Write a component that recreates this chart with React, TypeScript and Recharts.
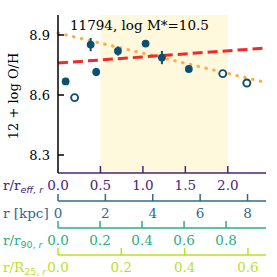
import React from 'react';
import { ComposedChart, Scatter, XAxis, YAxis, ReferenceArea, ReferenceLine, ErrorBar } from 'recharts';

// filled points (with errors) and open points, radius in r/r_eff
const filledR = [0.09, 0.385, 0.45, 0.706, 1.032, 1.224, 1.541];
const filledOH = [8.668, 8.852, 8.715, 8.82, 8.857, 8.787, 8.73];
const filledErr = [0.015, 0.033, 0.02, 0.023, 0.012, 0.033, 0.015];
const openR = [0.196, 1.941, 2.224];
const openOH = [8.587, 8.707, 8.66];

const reffTicks = [0, 0.5, 1.0, 1.5, 2.0];
const kpcTicks = [0, 2, 4, 6, 8];
const r90Ticks = [0, 0.2, 0.4, 0.6, 0.8];
const r25Ticks = [0, 0.2, 0.4, 0.6];
const ohTicks = [8.3, 8.6, 8.9];

const reffMax = 2.45;
const kpcMax = 8.78;
const r90Max = 0.99;
const r25Max = 0.657;
const ohDomain = [8.21, 9.0];

// linear fits: oh = a + b * r
const fitRed = { a: 8.76, b: 0.0305 };
const fitOrange = { a: 8.91, b: -0.101 };
const shadeFrom = 0.5;
const shadeTo = 2.0;

const BLUE = '#0d4f73';
const C_REFF = '#482475';
const C_KPC = '#31688e';
const C_R90 = '#2aae80';
const C_R25 = '#bddf26';
const SERIF = 'DejaVu Serif';

const filled = filledR.map((r, i) => ({ r, oh: filledOH[i], err: filledErr[i] }));
const open = openR.map((r, i) => ({ r, oh: openOH[i] }));
// anchors so the secondary scales have something bound to them (drawn as nothing)
const anchorRows = (ticks: number[], max: number) => [...ticks, max].map((v) => ({ v, oh: ohDomain[0] }));

const BottomTick = (props: any) => {
  const { x, y, payload, color, digits, skipZero } = props;
  return (
    <g>
      {!(skipZero && payload.value === 0) && (
        <line x1={x} x2={x} y1={y} y2={y - 7} stroke={color} strokeWidth={1.5} />
      )}
      <text x={x} y={y + 17} textAnchor="middle" fill={color} fontSize={13.5} fontFamily={SERIF}>
        {payload.value.toFixed(digits)}
      </text>
    </g>
  );
};

const TopTick = ({ x, y, payload }: any) =>
  payload.value === 0 ? <g /> : <line x1={x} x2={x} y1={y} y2={y + 7} stroke="#000" strokeWidth={1.5} />;

const LeftTick = ({ x, y, payload }: any) => (
  <g>
    <line x1={x} x2={x + 6} y1={y} y2={y} stroke="#000" strokeWidth={1.5} />
    <text x={x - 8} y={y + 4.5} textAnchor="end" fontSize={13} fontFamily={SERIF} fill="#000">
      {payload.value.toFixed(1)}
    </text>
  </g>
);

const RightTick = ({ x, y }: any) => <line x1={x} x2={x - 6} y1={y} y2={y} stroke="#000" strokeWidth={1.5} />;

const axisTitle = (main: string, sub: string, color: string, uprightHead: boolean) => (p: any) => {
  const vb = p.viewBox;
  const parts = sub.split(', ');
  return (
    <text x={3} y={vb.y + 17} fill={color} fontSize={13.5} fontFamily={SERIF}>
      {main}
      {sub && (
        <tspan dy={3} fontSize={9.5} fontFamily="DejaVu Sans" fontStyle={uprightHead ? 'normal' : 'italic'}>
          {parts[0]}, <tspan fontStyle="italic">{parts[1]}</tspan>
        </tspan>
      )}
    </text>
  );
};

const secondaryAxis = (id: number, max: number, ticks: number[], h: number, color: string, digits: number, title: any) => (
  <XAxis
    key={`ax${id}`}
    xAxisId={id}
    type="number"
    dataKey="v"
    domain={[0, max]}
    allowDataOverflow
    ticks={ticks}
    interval={0}
    height={h}
    tickSize={0}
    tickMargin={0}
    tickLine={false}
    axisLine={{ stroke: color, strokeWidth: 1.5 }}
    tick={(p: any) => <BottomTick {...p} color={color} digits={digits} />}
    label={title}
  />
);

const anchorSeries = (id: number, ticks: number[], max: number) => (
  <Scatter
    key={`an${id}`}
    xAxisId={id}
    yAxisId={0}
    data={anchorRows(ticks, max)}
    dataKey="oh"
    isAnimationActive={false}
    shape={() => <g />}
  />
);

export default function App() {
  return (
    <div style={{ position: 'absolute', left: 0, top: 0, width: 277, height: 277, background: '#fff' }}>
      <ComposedChart width={277} height={277} margin={{ top: 15, right: 11, bottom: 0, left: 0 }}>
        <XAxis
          xAxisId={0}
          type="number"
          dataKey="r"
          domain={[0, reffMax]}
          allowDataOverflow
          ticks={reffTicks}
          interval={0}
          height={28}
          tickSize={0}
          tickMargin={0}
          tickLine={false}
          axisLine={{ stroke: C_REFF, strokeWidth: 1.5 }}
          tick={(p: any) => <BottomTick {...p} color={C_REFF} digits={1} skipZero />}
          label={axisTitle('r/r', 'eff, r', C_REFF, false)}
        />
        {secondaryAxis(1, kpcMax, kpcTicks, 27, C_KPC, 0, axisTitle('r [kpc]', '', C_KPC, false))}
        {secondaryAxis(2, r90Max, r90Ticks, 27, C_R90, 1, axisTitle('r/r', '90, r', C_R90, true))}
        {secondaryAxis(3, r25Max, r25Ticks, 22, C_R25, 1, axisTitle('r/R', '25, r', C_R25, true))}
        <XAxis
          xAxisId={4}
          orientation="top"
          type="number"
          dataKey="r"
          domain={[0, reffMax]}
          allowDataOverflow
          ticks={reffTicks}
          interval={0}
          height={0}
          tickSize={0}
          tickMargin={0}
          tickLine={false}
          axisLine={{ stroke: '#000', strokeWidth: 1.5 }}
          tick={TopTick}
        />
        <YAxis
          yAxisId={0}
          type="number"
          dataKey="oh"
          domain={ohDomain}
          allowDataOverflow
          ticks={ohTicks}
          interval={0}
          width={58}
          tickSize={0}
          tickMargin={0}
          tickLine={false}
          axisLine={{ stroke: '#000', strokeWidth: 1.5 }}
          tick={LeftTick}
          label={(p: any) => {
            const cx = 13;
            const cy = p.viewBox.y + p.viewBox.height / 2 + 2;
            return (
              <text x={cx} y={cy} transform={`rotate(-90, ${cx}, ${cy})`} textAnchor="middle" dominantBaseline="central" fontSize={13} fontFamily={SERIF} fill="#000">
                12 + log O/H
              </text>
            );
          }}
        />
        <YAxis
          yAxisId={1}
          orientation="right"
          type="number"
          dataKey="oh"
          domain={ohDomain}
          allowDataOverflow
          ticks={ohTicks}
          interval={0}
          width={0}
          tickSize={0}
          tickMargin={0}
          tickLine={false}
          axisLine={{ stroke: '#000', strokeWidth: 1.5 }}
          tick={RightTick}
        />
        <ReferenceArea xAxisId={0} yAxisId={0} x1={shadeFrom} x2={shadeTo} fill="#fef8dc" fillOpacity={1} stroke="none" />
        <ReferenceLine
          xAxisId={0}
          yAxisId={0}
          segment={[
            { x: 0, y: fitOrange.a },
            { x: reffMax, y: fitOrange.a + fitOrange.b * reffMax },
          ]}
          stroke="#fdae4b"
          strokeWidth={3.2}
          strokeDasharray="0.5 7.5"
          strokeLinecap="round"
        />
        <ReferenceLine
          xAxisId={0}
          yAxisId={0}
          segment={[
            { x: 0, y: fitRed.a },
            { x: reffMax, y: fitRed.a + fitRed.b * reffMax },
          ]}
          stroke="#ee2b2b"
          strokeWidth={3}
          strokeDasharray="10 5"
        />
        <Scatter
          xAxisId={0}
          yAxisId={0}
          data={filled}
          dataKey="oh"
          isAnimationActive={false}
          shape={(p: any) => <circle cx={p.cx} cy={p.cy} r={3.9} fill={BLUE} />}
        >
          <ErrorBar dataKey="err" direction="y" width={0} stroke={BLUE} strokeWidth={2} isAnimationActive={false} />
        </Scatter>
        <Scatter
          xAxisId={0}
          yAxisId={0}
          data={open}
          dataKey="oh"
          isAnimationActive={false}
          shape={(p: any) => <circle cx={p.cx} cy={p.cy} r={3.5} fill="#fff" stroke={BLUE} strokeWidth={1.9} />}
        />
        {anchorSeries(1, kpcTicks, kpcMax)}
        {anchorSeries(2, r90Ticks, r90Max)}
        {anchorSeries(3, r25Ticks, r25Max)}
        <Scatter
          xAxisId={4}
          yAxisId={1}
          data={open}
          dataKey="oh"
          isAnimationActive={false}
          shape={() => <g />}
        />
      </ComposedChart>
      <div
        style={{
          position: 'absolute',
          left: 70,
          top: 17,
          fontFamily: SERIF,
          fontSize: 13.5,
          lineHeight: '16px',
          color: '#000',
          whiteSpace: 'nowrap',
          pointerEvents: 'none',
        }}
      >
        11794, log M*=10.5
      </div>
    </div>
  );
}
